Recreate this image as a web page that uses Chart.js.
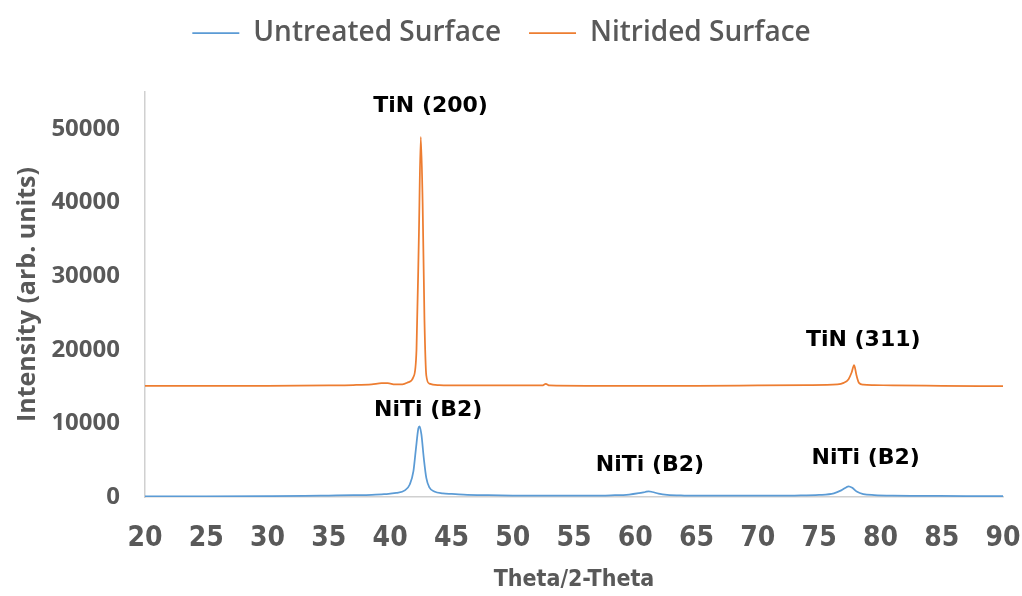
<!DOCTYPE html>
<html>
<head>
<meta charset="utf-8">
<script src="https://cdn.jsdelivr.net/npm/chart.js@4/dist/chart.umd.min.js"></script>
<style>
  html, body { margin: 0; padding: 0; background: #fff; }
  #wrap { width: 1022px; height: 596px; }
</style>
</head>
<body>
<div id="wrap"><canvas id="xrd"></canvas></div>
<script>
// XRD patterns, untreated vs nitrided NiTi
var untreatedTheta = [20, 25, 30, 33, 35, 37, 38.5, 39.5, 40.5, 41.2, 41.6, 41.9, 42.1, 42.3, 42.4, 42.55, 42.75, 42.95, 43.2, 43.6, 44.3, 45, 46, 48, 50, 53, 56, 58, 59.5, 60.3, 60.8, 61.1, 61.4, 61.9, 62.6, 64, 67, 70, 73, 75, 76.2, 76.8, 77.2, 77.4, 77.7, 78.1, 78.6, 79.5, 81, 84, 87, 90];
var untreatedVals = [100, 100, 120, 150, 200, 250, 300, 380, 550, 900, 1700, 3500, 6500, 9300, 9600, 8500, 5200, 2600, 1300, 750, 500, 420, 330, 250, 200, 170, 180, 230, 330, 520, 680, 780, 680, 450, 280, 200, 170, 170, 200, 280, 500, 900, 1300, 1450, 1250, 700, 400, 260, 180, 150, 130, 130];

var nitridedTheta = [20, 25, 30, 35, 37, 38.5, 39.3, 39.8, 40.4, 41, 41.5, 41.9, 42.15, 42.35, 42.5, 42.65, 42.8, 42.95, 43.2, 44, 46, 50, 52.4, 52.7, 53, 56, 60, 65, 70, 74, 76.5, 77, 77.4, 77.65, 77.85, 78.05, 78.25, 78.6, 79.5, 81, 85, 90];
var nitridedVals = [15100, 15100, 15100, 15150, 15200, 15300, 15450, 15450, 15300, 15300, 15600, 16300, 20000, 36000, 48900, 40000, 24000, 16500, 15400, 15200, 15150, 15150, 15150, 15350, 15150, 15100, 15100, 15100, 15150, 15200, 15300, 15500, 16000, 16900, 17900, 16500, 15500, 15250, 15200, 15150, 15100, 15050];

var seriesNames = ['Untreated Surface', 'Nitrided Surface'];
var yTicks = [0, 10000, 20000, 30000, 40000, 50000];

// peak labels: text, 2-theta, intensity
var peakText = ['TiN (200)', 'NiTi (B2)', 'NiTi (B2)', 'TiN (311)', 'NiTi (B2)'];
var peakTheta = [43.3, 43.1, 61.2, 78.6, 78.8];
var peakInt = [53000, 11800, 4350, 21300, 5300];

function pts(xs, ys) {
	return xs.map(function (x, i) { return { x: x, y: ys[i] }; });
}

var peakLabels = {
	id: 'peakLabels',
	afterDatasetsDraw: function (chart) {
		var ctx = chart.ctx;
		var sx = chart.scales.x, sy = chart.scales.y;
		ctx.save();
		ctx.font = 'bold 22px "DejaVu Sans"';
		ctx.fillStyle = '#000';
		ctx.textAlign = 'center';
		ctx.textBaseline = 'middle';
		for (var i = 0; i < peakText.length; i++) {
			ctx.fillText(peakText[i], sx.getPixelForValue(peakTheta[i]), sy.getPixelForValue(peakInt[i]));
		}
		ctx.restore();
	}
};

// legend takes a fixed band at the top, drawn a bit higher than its padding would put it
var legendBand = {
	id: 'legendBand',
	beforeInit: function (chart) {
		var fit = chart.legend.fit;
		chart.legend.fit = function () {
			fit.bind(chart.legend)();
			this.height = 92;
		};
	},
	afterLayout: function (chart) {
		chart.legend.top -= 9;
	}
};

var ctx = document.getElementById('xrd').getContext('2d');
var chart = new Chart(ctx, {
	type: 'line',
	data: {
		datasets: [{
			label: seriesNames[0],
			data: pts(untreatedTheta, untreatedVals),
			borderColor: '#5B9BD5',
			backgroundColor: '#5B9BD5',
			borderWidth: 1.75,
			pointRadius: 0,
			cubicInterpolationMode: 'monotone'
		}, {
			label: seriesNames[1],
			data: pts(nitridedTheta, nitridedVals),
			borderColor: '#ED7D31',
			backgroundColor: '#ED7D31',
			borderWidth: 1.75,
			pointRadius: 0,
			cubicInterpolationMode: 'monotone'
		}]
	},
	options: {
		responsive: true,
		maintainAspectRatio: false,
		animation: false,
		layout: { padding: { top: 0, right: 19, left: 0, bottom: 0 } },
		plugins: {
			tooltip: { enabled: false },
			legend: {
				position: 'top',
				labels: {
					boxWidth: 47,
					boxHeight: 0,
					padding: 28,
					color: '#595959',
					font: { family: '"Open Sans"', size: 28, weight: '600' }
				}
			}
		},
		scales: {
			x: {
				type: 'linear',
				min: 20,
				max: 90,
				grid: { display: false, drawTicks: false },
				border: { color: '#d0d0d0', width: 1.5 },
				ticks: {
					stepSize: 5,
					padding: 28,
					color: '#595959',
					maxRotation: 0,
					font: { family: '"DejaVu Sans Condensed", sans-serif', size: 28, weight: 'bold', lineHeight: 1 }
				},
				title: {
					display: true,
					text: 'Theta/2-Theta',
					color: '#595959',
					padding: { top: 0, bottom: 4 },
					font: { family: '"DejaVu Sans Condensed", sans-serif', size: 23, weight: 'bold', lineHeight: 1 }
				},
				afterFit: function (s) { s.height = 99; s.paddingLeft = 0; s.paddingRight = 0; }
			},
			y: {
				min: 0,
				max: 55000,
				grid: { display: false, drawTicks: false },
				border: { color: '#d0d0d0', width: 1.5 },
				afterBuildTicks: function (s) {
					s.ticks = yTicks.map(function (v) { return { value: v }; });
				},
				ticks: {
					autoSkip: false,
					padding: 25,
					color: '#595959',
					font: { family: '"Open Sans"', size: 24, weight: 'bold' },
					callback: function (v) { return String(v); }
				},
				title: {
					display: true,
					text: 'Intensity (arb. units)',
					color: '#595959',
					padding: { top: 13, bottom: 0 },
					font: { family: '"Open Sans"', size: 25, weight: 'bold' }
				},
				afterFit: function (s) { s.width = 145; }
			}
		}
	},
	plugins: [peakLabels, legendBand]
});
</script>
</body>
</html>
